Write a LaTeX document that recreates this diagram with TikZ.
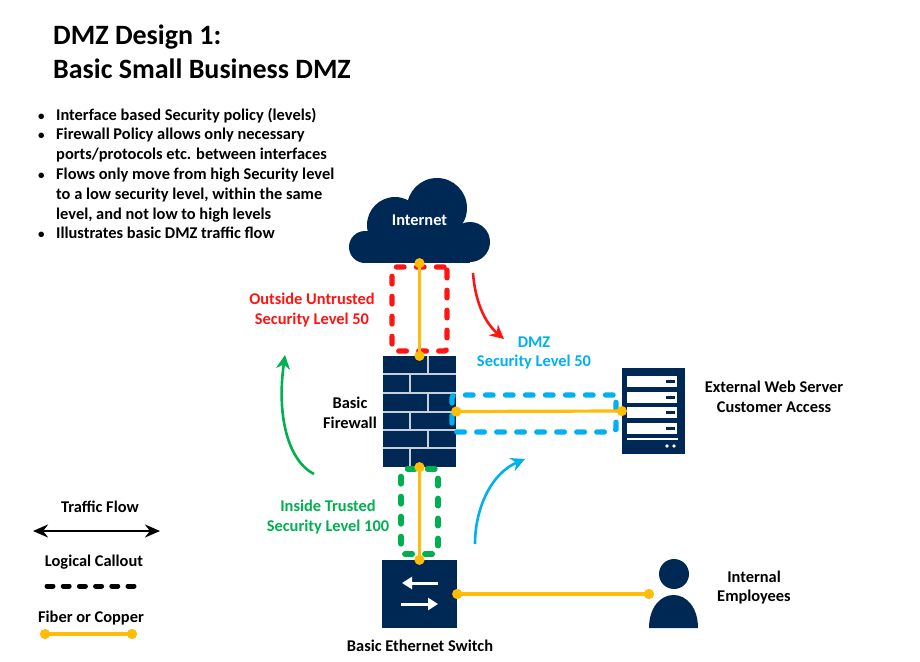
\documentclass[tikz,border=0pt]{standalone}
\usepackage{fontspec}
\setmainfont{Carlito}
\usetikzlibrary{arrows.meta}
\definecolor{navy}{RGB}{0,40,85}
\definecolor{fiberorange}{RGB}{255,188,8}
\definecolor{dmzblue}{RGB}{0,176,240}
\definecolor{insidegreen}{RGB}{0,176,80}
\definecolor{outsidered}{RGB}{255,20,20}
\newcommand{\itemdot}{{\fontsize{13}{13}\selectfont\textbullet}}
\tikzset{
  txt/.style={font=\fontsize{16.4}{19.8}\selectfont\bfseries, align=center, inner sep=0pt, yshift=-1pt},
  titletxt/.style={font=\fontsize{28}{33}\selectfont\bfseries, anchor=base west, inner sep=0pt, yshift=-1pt},
  device/.style={fill=navy, inner sep=0pt},
  fiber/.style={draw=fiberorange, line width=3.2pt, {Circle[length=10pt]}-{Circle[length=10pt]}, shorten >=-5pt, shorten <=-5pt},
  callout/.style={line width=5.4pt, line cap=round, rounded corners=3pt, dash pattern=on 7.5pt off 12.5pt, inner sep=0pt},
  flow/.style={line width=2.6pt, -{Stealth[length=14pt, width=14pt]}},
  brick/.style={white!78!navy, line width=1.3pt},
}
\begin{document}
\begin{tikzpicture}[x=1pt, y=-1pt]
  \useasboundingbox (0,0) rectangle (920,661);
  \node[titletxt] (title1) at (53,44) {DMZ Design 1:};
  \node[titletxt] (title2) at (53,77) {Basic Small Business DMZ};
  \node[txt, anchor=north west, align=left] (bullets) at (38,105) {%
    \begin{tabular}{@{}p{18pt}@{}l@{}}
      \itemdot & Interface based Security policy (levels)\\
      \itemdot & Firewall Policy allows only necessary\\
      & ports/protocols etc. between interfaces\\
      \itemdot & Flows only move from high Security level\\
      & to a low security level, within the same\\
      & level, and not low to high levels\\
      \itemdot & Illustrates basic DMZ traffic flow\\
    \end{tabular}};

  \fill[navy] (365,247) circle (16);
  \fill[navy] (395,225) circle (28);
  \fill[navy] (437,208) circle (30);
  \fill[navy] (470,242) circle (20);
  \fill[navy] (365,231) rectangle (470,263);
  \node[txt, white, minimum width=141pt, minimum height=85pt] (internet) at (419.5,219.5) {Internet};

  \node[device, minimum width=73pt, minimum height=111pt] (firewall) at (419.5,411.5) {};
  \foreach \y in {374,393,412,430,448}
    \draw[brick] (383,\y) -- (456,\y);
  \foreach \ya/\yb/\x in {356/374/428,374/393/410,393/412/428,412/430/410,430/448/428,448/467/410}
    \draw[brick] (\x,\ya) -- (\x,\yb);
  \node[txt] (firewalltxt) at (350,412) {Basic\\Firewall};

  \node[device, minimum width=63pt, minimum height=86pt] (server) at (653.5,411) {};
  \foreach \y in {376,391.5,407,423} {
    \fill[white] (627,\y) rectangle (677,\y+11);
    \fill[navy] (666,\y+4) rectangle (675,\y+7);
  }
  \fill[white] (627,438) rectangle (678,440);
  \fill[white] (667,446) circle (1.8);
  \fill[white] (674,446) circle (1.8);
  \node[txt] (servertxt) at (774,396) {External Web Server\\Customer Access};

  \node[device, minimum width=75pt, minimum height=68pt] (switch) at (419.5,594) {};
  \coordinate (swleft) at (402,583);
  \coordinate (swleftend) at (438,583);
  \coordinate (swright) at (438,604);
  \coordinate (swrightend) at (401,604);
  \draw[white, line width=3pt, -{Triangle[length=10pt, width=12pt]}] (swleftend) -- (swleft);
  \draw[white, line width=3pt, -{Triangle[length=10pt, width=12pt]}] (swrightend) -- (swright);
  \node[txt] (switchtxt) at (420,645) {Basic Ethernet Switch};

  \node[circle, fill=navy, minimum size=30pt, inner sep=0pt] (head) at (674,574) {};
  \coordinate (employees) at (649,594);
  \fill[navy] (649,628) .. controls (649,608) and (660,595) .. (673.5,595)
    .. controls (687,595) and (698,608) .. (698,628) -- cycle;
  \node[txt] (employeestxt) at (754,586.5) {Internal\\Employees};

  \node[callout, draw=outsidered, minimum width=55pt, minimum height=84pt] (outside) at (419.5,309) {};
  \node[callout, draw=dmzblue, minimum width=164pt, minimum height=37pt] (dmz) at (534,413.5) {};
  \node[callout, draw=insidegreen, minimum width=37pt, minimum height=85pt] (inside) at (419.5,511.5) {};

  \draw[fiber] (internet.south) -- (firewall.north);
  \draw[fiber] (firewall.east) -- (server.west);
  \draw[fiber] (firewall.south) -- (switch.north);
  \draw[fiber] (switch.east) -- (employees);

  \node[txt, outsidered] (outsidetxt) at (312,309) {Outside Untrusted\\Security Level 50};
  \node[txt, dmzblue] (dmztxt) at (534,352) {DMZ\\Security Level 50};
  \node[txt, insidegreen] (insidetxt) at (328,516) {Inside Trusted\\Security Level 100};

  \coordinate (redfrom) at (473,273);
  \coordinate (redto) at (504,339);
  \coordinate (greenfrom) at (314,474);
  \coordinate (greento) at (285,355);
  \coordinate (bluefrom) at (475,544);
  \coordinate (blueto) at (525,459);
  \draw[flow, outsidered] (redfrom) .. controls (475,300) and (484,322) .. (redto);
  \draw[flow, insidegreen] (greenfrom) .. controls (290,462) and (276,420) .. (greento);
  \draw[flow, dmzblue] (bluefrom) .. controls (475,510) and (490,474) .. (blueto);

  \node[txt] (flowtxt) at (100,506) {Traffic Flow};
  \coordinate (flowa) at (33,531);
  \coordinate (flowb) at (160,531);
  \draw[line width=2.6pt, {Stealth[length=15pt, width=13pt]}-{Stealth[length=15pt, width=13pt]}] (flowa) -- (flowb);
  \node[txt] (callouttxt) at (94,561) {Logical Callout};
  \coordinate (calla) at (47,586);
  \coordinate (callb) at (134,586);
  \draw[line width=5pt, line cap=round, dash pattern=on 6pt off 10.2pt] (calla) -- (callb);
  \node[txt] (fibertxt) at (91,617) {Fiber or Copper};
  \coordinate (fibera) at (45,634);
  \coordinate (fiberb) at (132,634);
  \draw[fiber] (fibera) -- (fiberb);
\end{tikzpicture}
\end{document}
